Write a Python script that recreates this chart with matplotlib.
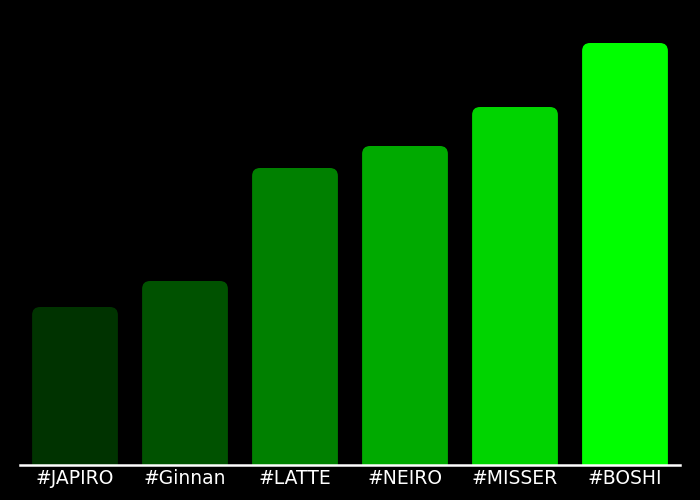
import matplotlib
matplotlib.use("Agg")
import matplotlib.pyplot as plt
from matplotlib.path import Path
from matplotlib.patches import PathPatch

categories = ["#JAPIRO", "#Ginnan", "#LATTE", "#NEIRO", "#MISSER", "#BOSHI"]
values = [158, 184, 297, 319, 358, 422]
colors = ["#003300", "#005200", "#008000", "#00aa00", "#00d400", "#00ff00"]

plt.rcParams["font.family"] = ["DejaVu Sans"]

fig = plt.figure(figsize=(7, 5), dpi=100, facecolor="black")
ax = fig.add_axes([20/700, 35/500, 660/700, 465/500], facecolor="black")
ax.set_xlim(-0.5, len(categories) - 0.5)
ax.set_ylim(0, 465)

bars = ax.bar(range(len(categories)), values, width=0.78, color=colors)
fig.canvas.draw()
# corner radius ~8 px converted to data units
inv = ax.transData.inverted()
p0 = inv.transform((0, 0))
p1 = inv.transform((8, 8))
rx, ry = p1[0] - p0[0], p1[1] - p0[1]
for b, c in zip(bars, colors):
    x, w, h = b.get_x(), b.get_width(), b.get_height()
    verts = [(x, 0), (x, h - ry), (x, h), (x + rx, h), (x + w - rx, h),
             (x + w, h), (x + w, h - ry), (x + w, 0), (x, 0)]
    codes = [Path.MOVETO, Path.LINETO, Path.CURVE3, Path.CURVE3, Path.LINETO,
             Path.CURVE3, Path.CURVE3, Path.LINETO, Path.CLOSEPOLY]
    ax.add_patch(PathPatch(Path(verts, codes), facecolor=c, edgecolor="none"))
    b.set_visible(False)

for s in ["top", "right", "left"]:
    ax.spines[s].set_visible(False)
ax.spines["bottom"].set_color("white")
ax.spines["bottom"].set_linewidth(1.8)
ax.set_yticks([])
ax.set_xticks(range(len(categories)))
ax.set_xticklabels(categories, color="white", fontsize=13.5, family="DejaVu Sans")
ax.tick_params(axis="x", length=0, pad=3)

fig.savefig("out.png", dpi=100, facecolor="black")
